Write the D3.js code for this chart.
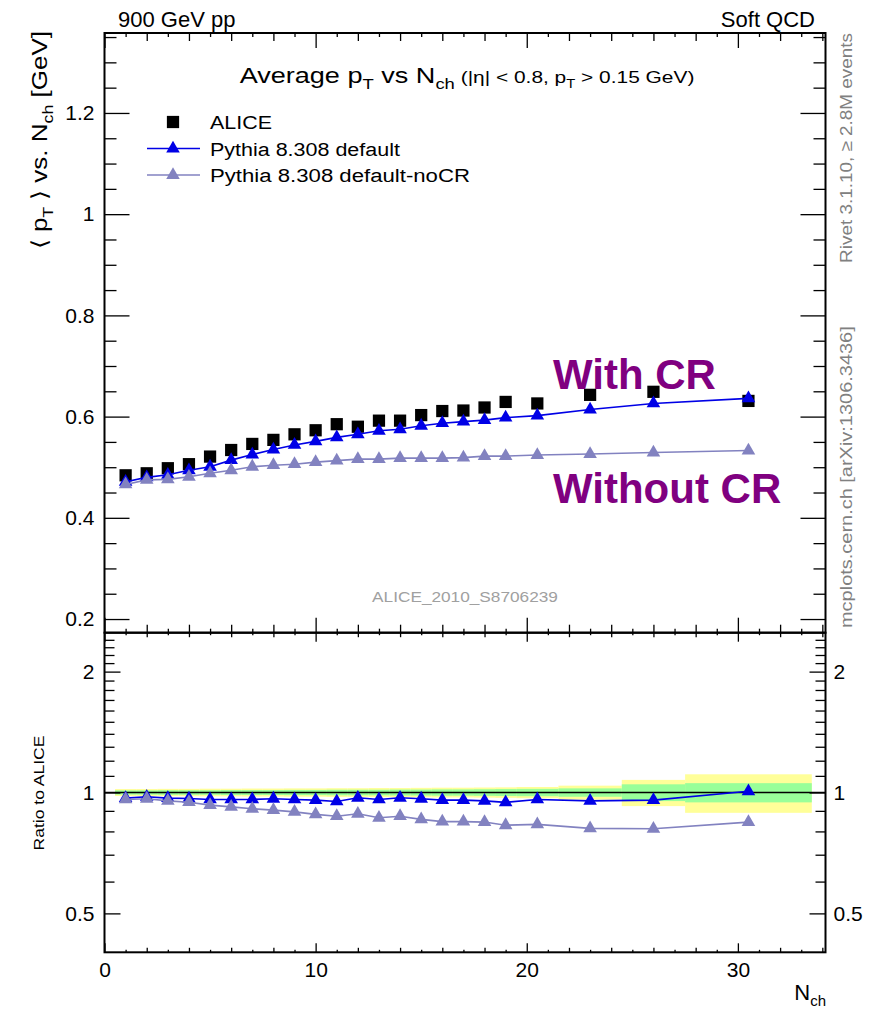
<!DOCTYPE html>
<html>
<head>
<meta charset="utf-8">
<script src="https://cdn.jsdelivr.net/npm/d3@7"></script>
<style>
  body { margin: 0; background: #fff; }
  svg { font-family: "Liberation Sans", Arial, Helvetica, sans-serif; }
</style>
</head>
<body>
<svg id="chart" width="870" height="1012"></svg>
<script>
// N_ch bin centres and edges
var nch   = [1, 2, 3, 4, 5, 6, 7, 8, 9, 10, 11, 12, 13, 14, 15, 16, 17, 18, 19, 20.5, 23, 26, 30.5];
var binLo = [0.5, 1.5, 2.5, 3.5, 4.5, 5.5, 6.5, 7.5, 8.5, 9.5, 10.5, 11.5, 12.5, 13.5, 14.5, 15.5, 16.5, 17.5, 18.5, 19.5, 21.5, 24.5, 27.5];
var binHi = [1.5, 2.5, 3.5, 4.5, 5.5, 6.5, 7.5, 8.5, 9.5, 10.5, 11.5, 12.5, 13.5, 14.5, 15.5, 16.5, 17.5, 18.5, 19.5, 21.5, 24.5, 27.5, 33.5];

// <pT> [GeV]
var alice  = [0.484, 0.488, 0.498, 0.506, 0.521, 0.534, 0.546, 0.554, 0.565, 0.573, 0.585, 0.580, 0.592, 0.592, 0.603, 0.611, 0.612, 0.618, 0.629, 0.626, 0.643, 0.649, 0.631];
var pythia = [0.471, 0.480, 0.485, 0.494, 0.501, 0.514, 0.525, 0.535, 0.544, 0.551, 0.559, 0.565, 0.572, 0.575, 0.582, 0.587, 0.590, 0.593, 0.598, 0.602, 0.614, 0.626, 0.636];
var noCR   = [0.466, 0.475, 0.476, 0.481, 0.488, 0.494, 0.501, 0.504, 0.506, 0.510, 0.513, 0.516, 0.516, 0.518, 0.518, 0.518, 0.519, 0.522, 0.522, 0.524, 0.526, 0.529, 0.533];

// ratio to ALICE
var ratioPythia = [0.968, 0.976, 0.968, 0.966, 0.961, 0.961, 0.961, 0.965, 0.961, 0.957, 0.950, 0.970, 0.961, 0.970, 0.965, 0.957, 0.957, 0.953, 0.945, 0.961, 0.953, 0.957, 1.007];
var ratioNoCR   = [0.961, 0.965, 0.953, 0.946, 0.930, 0.921, 0.911, 0.904, 0.895, 0.882, 0.873, 0.885, 0.865, 0.873, 0.857, 0.846, 0.846, 0.844, 0.829, 0.833, 0.814, 0.812, 0.844];

// relative uncertainty of the data (outer = yellow, inner = green)
var errTot  = [0.020, 0.020, 0.021, 0.021, 0.022, 0.022, 0.023, 0.023, 0.024, 0.024, 0.025, 0.025, 0.026, 0.026, 0.027, 0.028, 0.028, 0.029, 0.030, 0.032, 0.040, 0.075, 0.110];
var errStat = [0.012, 0.012, 0.013, 0.013, 0.013, 0.014, 0.014, 0.014, 0.015, 0.015, 0.016, 0.016, 0.016, 0.017, 0.017, 0.018, 0.018, 0.019, 0.020, 0.021, 0.024, 0.048, 0.055];

// tick labels
var yMainTicks  = [0.2, 0.4, 0.6, 0.8, 1, 1.2];
var yRatioTicks = [0.5, 1, 2];
var xTicks      = [0, 10, 20, 30];

var svg = d3.select("#chart");
var L = 104.5, R = 825.5, T = 33, M = 632.7, B = 952.3;

var x  = d3.scaleLinear().domain([0, 34.15]).range([L, R]);
var y  = d3.scaleLinear().domain([0.173, 1.358]).range([M, T]);
var yr = d3.scaleLog().domain([0.4, 2.5]).range([B, M]);

var blue = "#0000e6", grey = "#8282c0";
var FONT = '"Liberation Sans", Arial, Helvetica, sans-serif';

// ---- ratio bands
var idx = d3.range(nch.length);
function band(err, color) {
    svg.append("g").selectAll("rect").data(idx).join("rect")
        .attr("x", function (i) { return x(binLo[i]); })
        .attr("width", function (i) { return x(binHi[i]) - x(binLo[i]); })
        .attr("y", function (i) { return yr(1 + err[i]); })
        .attr("height", function (i) { return yr(1 - err[i]) - yr(1 + err[i]); })
        .attr("fill", color);
}
band(errTot, "#ffff99");
band(errStat, "#99ff99");

svg.append("line")
    .attr("x1", L).attr("x2", R)
    .attr("y1", yr(1)).attr("y2", yr(1))
    .attr("stroke", "#000").attr("stroke-width", 1.5);

// ---- series
function series(vals, ys, color, type, size, withLine) {
    var g = svg.append("g");
    if (withLine) {
        var line = d3.line()
            .x(function (i) { return x(nch[i]); })
            .y(function (i) { return ys(vals[i]); });
        g.append("path").datum(idx).attr("d", line)
            .attr("fill", "none").attr("stroke", color).attr("stroke-width", 1.6);
    }
    g.selectAll(".m").data(idx).join("path")
        .attr("class", "m")
        .attr("transform", function (i) { return "translate(" + x(nch[i]) + "," + ys(vals[i]) + ")"; })
        .attr("d", d3.symbol().type(type).size(size))
        .attr("fill", color);
}
series(alice, y, "#000", d3.symbolSquare, 150, false);
series(pythia, y, blue, d3.symbolTriangle, 80, true);
series(noCR, y, grey, d3.symbolTriangle, 80, true);
series(ratioPythia, yr, blue, d3.symbolTriangle, 80, true);
series(ratioNoCR, yr, grey, d3.symbolTriangle, 80, true);

// ---- axes (ticks pointing inwards)
function ax(gen, tx, ty, vals, size, fmt, pad) {
    var g = svg.append("g")
        .attr("transform", "translate(" + tx + "," + ty + ")")
        .call(gen.tickValues(vals).tickSizeInner(size).tickSizeOuter(0)
            .tickPadding(pad || 8).tickFormat(fmt || function () { return ""; }));
    g.select(".domain").remove();
    g.selectAll("line").attr("stroke", "#000").attr("stroke-width", 1.3);
    g.selectAll("text").attr("font-size", 21).attr("font-family", FONT).attr("fill", "#000");
    return g;
}
function excl(arr, major) {
    return arr.map(function (v) { return Math.round(v * 100) / 100; })
        .filter(function (v) { return major.indexOf(v) < 0; });
}
var yMinor = excl(d3.range(0.2, 1.36, 0.05), yMainTicks);
var rMinor = excl(d3.range(0.6, 2.45, 0.1), yRatioTicks);
var x2 = excl(d3.range(2, 35, 2), xTicks);
var x1 = d3.range(1, 35, 2);

// main panel
ax(d3.axisLeft(y), L, 0, yMainTicks, -25, d3.format(".1f"), 10)
    .selectAll("text").text(function (d) { return d === 1 ? "1" : d3.format(".1f")(d); });
ax(d3.axisLeft(y), L, 0, yMinor, -12);
ax(d3.axisRight(y), R, 0, yMainTicks, -25);
ax(d3.axisRight(y), R, 0, yMinor, -12);
ax(d3.axisBottom(x), 0, T, xTicks, 15);
ax(d3.axisBottom(x), 0, T, x2, 8);
ax(d3.axisBottom(x), 0, T, x1, 4);
ax(d3.axisTop(x), 0, M, xTicks, 15);
ax(d3.axisTop(x), 0, M, x2, 8);
ax(d3.axisTop(x), 0, M, x1, 4);

// ratio panel
var rFmt = function (d) { return String(d); };
ax(d3.axisLeft(yr), L, 0, yRatioTicks, -16, rFmt, 10);
ax(d3.axisLeft(yr), L, 0, rMinor, -10);
ax(d3.axisRight(yr), R, 0, yRatioTicks, -16, rFmt, 8);
ax(d3.axisRight(yr), R, 0, rMinor, -10);
ax(d3.axisBottom(x), 0, M, xTicks, 9);
ax(d3.axisBottom(x), 0, M, x2, 4.5);
ax(d3.axisBottom(x), 0, M, x1, 2.5);
ax(d3.axisBottom(x), 0, B, xTicks, -9, d3.format("d"), 10);
ax(d3.axisBottom(x), 0, B, x2, -4.5);
ax(d3.axisBottom(x), 0, B, x1, -2.5);

// frames
[[T, M], [M, B]].forEach(function (p) {
    svg.append("rect").attr("x", L).attr("y", p[0]).attr("width", R - L).attr("height", p[1] - p[0])
        .attr("fill", "none").attr("stroke", "#000").attr("stroke-width", 2);
});

// ---- texts
function label(px, py, size, anchor, rot) {
    return svg.append("text")
        .attr("transform", "translate(" + px + "," + py + ")" + (rot ? " rotate(-90)" : ""))
        .attr("font-size", size).attr("text-anchor", anchor || "start").attr("fill", "#000");
}
function sub(t, s, size, dy) {
    t.append("tspan").attr("dy", dy).attr("font-size", size).text(s);
}
// the ROOT text is a bit wider than Liberation Sans: stretch to the measured length
function fit(t, w) {
    var len = t.node().getComputedTextLength();
    t.attr("transform", t.attr("transform") + " scale(" + (w / len) + ",1)");
    return t;
}

label(118, 27, 22).text("900 GeV pp");
label(815, 27, 22, "end").text("Soft QCD");

var title = label(467, 83, 22, "middle");
title.append("tspan").text("Average p");
sub(title, "T", 15, 6);
title.append("tspan").attr("dy", -6).text(" vs N");
sub(title, "ch", 15, 6);
title.append("tspan").attr("dy", -6).attr("font-size", 17).text(" (|\u03b7| < 0.8, p");
sub(title, "T", 12, 5);
title.append("tspan").attr("dy", -5).attr("font-size", 17).text(" > 0.15 GeV)");
fit(title, 455);

// legend
var leg = [
    {name: "ALICE", color: "#000", type: d3.symbolSquare, size: 150, line: false, w: 62},
    {name: "Pythia 8.308 default", color: blue, type: d3.symbolTriangle, size: 80, line: true, w: 190},
    {name: "Pythia 8.308 default-noCR", color: grey, type: d3.symbolTriangle, size: 80, line: true, w: 260}
];
leg.forEach(function (d, i) {
    var ly = 122 + i * 26.5;
    if (d.line) {
        svg.append("line").attr("x1", 147).attr("x2", 200).attr("y1", ly).attr("y2", ly)
            .attr("stroke", d.color).attr("stroke-width", 1.6);
    }
    svg.append("path").attr("transform", "translate(173," + ly + ")")
        .attr("d", d3.symbol().type(d.type).size(d.size)).attr("fill", d.color);
    fit(label(210, ly + 7, 18).text(d.name), d.w);
});

// axis titles
var yl = label(47, 31, 22, "end", true);
yl.append("tspan").text("\u27e8 p");
sub(yl, "T", 15, 6);
yl.append("tspan").attr("dy", -6).text(" \u27e9 vs. N");
sub(yl, "ch", 15, 6);
yl.append("tspan").attr("dy", -6).text(" [GeV]");
fit(yl, 220);

fit(label(44, 793, 15, "middle", true).text("Ratio to ALICE"), 115);

var xl = label(826, 1000, 22, "end");
xl.append("tspan").text("N");
sub(xl, "ch", 15, 6);

// side notes
fit(label(852, 33, 17, "end", true).attr("fill", "#808080").text("Rivet 3.1.10, \u2265 2.8M events"), 230);
fit(label(852, 628, 17, "start", true).attr("fill", "#808080").text("mcplots.cern.ch [arXiv:1306.3436]"), 302);
fit(label(465, 602, 14, "middle").attr("fill", "#a0a0a0").text("ALICE_2010_S8706239"), 186);

// annotations
label(553, 389, 42).attr("font-weight", "bold").attr("fill", "#800080").text("With CR");
label(553, 503, 42).attr("font-weight", "bold").attr("fill", "#800080").text("Without CR");
</script>
</body>
</html>
